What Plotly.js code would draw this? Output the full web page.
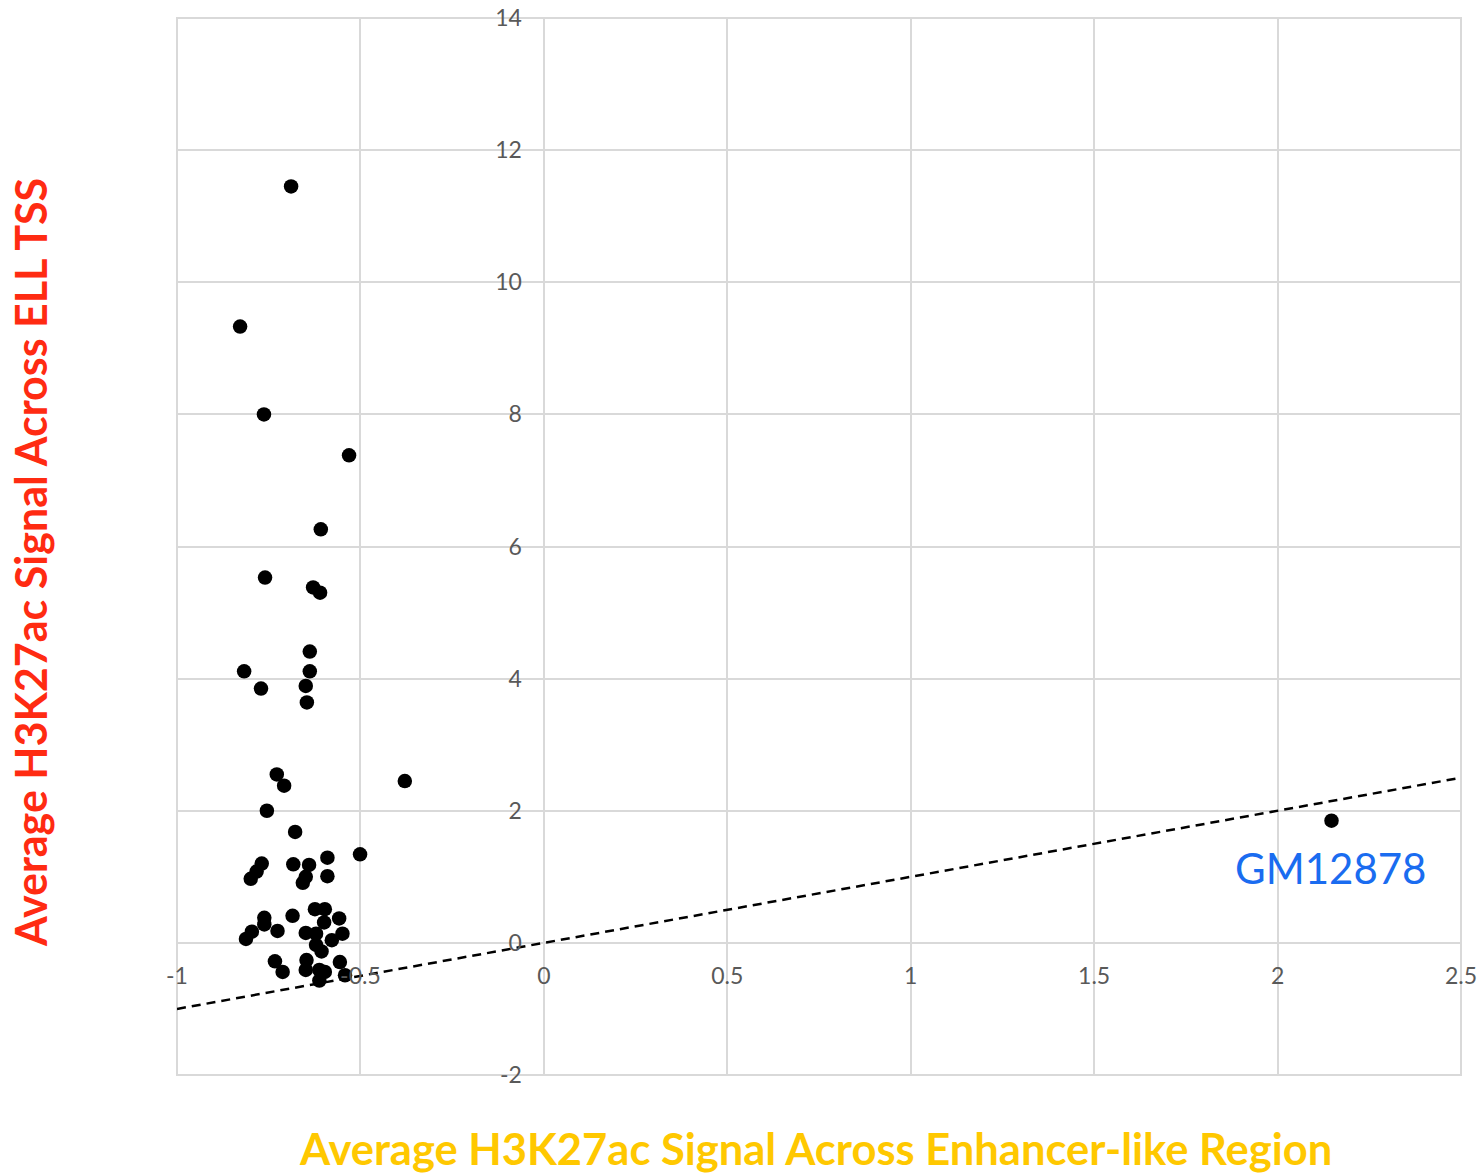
<!DOCTYPE html>
<html>
<head>
<meta charset="utf-8">
<script src="https://cdn.plot.ly/plotly-3.0.1.min.js"></script>
<style>
  html, body { margin: 0; padding: 0; background: #ffffff; }
  #chart { width: 1483px; height: 1175px; }
</style>
</head>
<body>
<div id="chart"></div>
<script>
// Average H3K27ac signal across enhancer-like region (x) vs across ELL TSS (y)
const enhancerSignal = [
  -0.689, -0.828, -0.763, -0.531, -0.608, -0.760, -0.629, -0.610, -0.638, -0.638,
  -0.817, -0.649, -0.771, -0.646, -0.728, -0.708, -0.379, -0.755, -0.678, -0.501,
  -0.590, -0.769, -0.783, -0.799, -0.683, -0.640, -0.649, -0.657, -0.590, -0.624,
  -0.597, -0.599, -0.558, -0.762, -0.762, -0.685, -0.796, -0.812, -0.726, -0.649,
  -0.621, -0.549, -0.578, -0.621, -0.606, -0.733, -0.647, -0.556, -0.712, -0.649,
  -0.612, -0.597, -0.612, -0.542, 2.147
];
const tssSignal = [
  11.45, 9.33, 8.00, 7.38, 6.26, 5.53, 5.38, 5.30, 4.41, 4.11,
  4.11, 3.89, 3.85, 3.64, 2.55, 2.38, 2.45, 2.00, 1.68, 1.34,
  1.29, 1.20, 1.08, 0.97, 1.19, 1.18, 1.00, 0.91, 1.01, 0.51,
  0.51, 0.31, 0.37, 0.38, 0.28, 0.41, 0.17, 0.06, 0.18, 0.15,
  0.14, 0.14, 0.04, -0.03, -0.13, -0.28, -0.26, -0.29, -0.44, -0.41,
  -0.41, -0.44, -0.57, -0.49, 1.85
];

// y = x reference line
const refLineX = [-1, 2.5];
const refLineY = [-1, 2.5];

// Labelled sample
const labelName = "GM12878";
const labelX = 2.144;
const labelY = 1.136;

// Tick values and labels
const xTickVals = [-1, -0.5, 0, 0.5, 1, 1.5, 2, 2.5];
const xTickText = ["-1", "-0.5", "0", "0.5", "1", "1.5", "2", "2.5"];
const yTickVals = [-2, 0, 2, 4, 6, 8, 10, 12, 14];
const yTickText = ["-2", "0", "2", "4", "6", "8", "10", "12", "14"];

const xTitle = "Average H3K27ac Signal Across Enhancer-like Region";
const yTitle = "Average H3K27ac Signal Across ELL TSS";

const gridColor = "#d9d9d9";
const tickFont = { family: "Lato, 'Open Sans', sans-serif", size: 23, color: "#595959" };

const traces = [
  {
    x: refLineX, y: refLineY, type: "scatter", mode: "lines",
    line: { color: "#000000", width: 2.5, dash: "9px,6px" },
    hoverinfo: "skip", showlegend: false
  },
  {
    x: enhancerSignal, y: tssSignal, type: "scatter", mode: "markers",
    marker: { color: "#000000", size: 14.5 },
    showlegend: false
  }
];

const layout = {
  width: 1483, height: 1175,
  margin: { l: 177, r: 22, t: 18, b: 100 },
  paper_bgcolor: "#ffffff", plot_bgcolor: "#ffffff",
  showlegend: false,
  xaxis: {
    range: [-1, 2.5], tickvals: xTickVals, ticktext: xTickText,
    showgrid: true, gridcolor: gridColor, gridwidth: 2,
    zeroline: true, zerolinecolor: gridColor, zerolinewidth: 2,
    showline: false, ticks: "", tickfont: tickFont,
    anchor: "free", position: 0.125, ticklabelstandoff: 17,
    fixedrange: true
  },
  yaxis: {
    range: [-2, 14], tickvals: yTickVals, ticktext: yTickText,
    showgrid: true, gridcolor: gridColor, gridwidth: 2,
    zeroline: true, zerolinecolor: gridColor, zerolinewidth: 2,
    showline: false, ticks: "", tickfont: tickFont,
    anchor: "free", position: 1 / 3.5, ticklabelstandoff: 22,
    fixedrange: true
  },
  shapes: [
    {
      type: "rect", xref: "paper", yref: "paper", x0: 0, x1: 1, y0: 0, y1: 1,
      line: { color: gridColor, width: 2 }, fillcolor: "rgba(0,0,0,0)", layer: "below"
    }
  ],
  annotations: [
    {
      text: labelName, x: labelX, y: labelY, xref: "x", yref: "y",
      showarrow: false, xanchor: "center", yanchor: "middle",
      font: { family: "Lato, 'Open Sans', sans-serif", size: 42, color: "#1a6cf0" }
    },
    {
      text: "<b>" + xTitle + "</b>", xref: "paper", yref: "paper",
      x: 0.497, y: -0.0695, xanchor: "center", yanchor: "middle", showarrow: false,
      font: { family: "Lato, 'Open Sans', sans-serif", size: 43.5, color: "#ffc800" }
    },
    {
      text: "<b>" + yTitle + "</b>", xref: "paper", yref: "paper",
      x: -0.1145, y: 0.4853, xanchor: "center", yanchor: "middle", showarrow: false,
      textangle: -90,
      font: { family: "Lato, 'Open Sans', sans-serif", size: 43, color: "#ff2b12" }
    }
  ]
};

Plotly.newPlot("chart", traces, layout, { staticPlot: true, displayModeBar: false });
</script>
</body>
</html>
